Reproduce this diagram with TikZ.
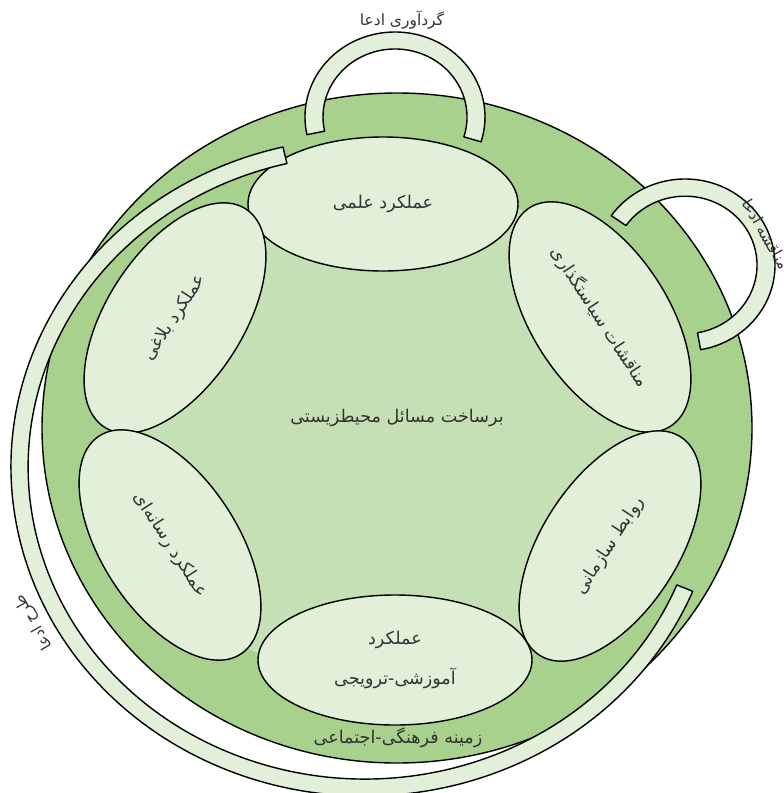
\documentclass[tikz,border=0pt]{standalone}
\usepackage{fontspec}
\usepackage{tikz}
\usetikzlibrary{shapes.geometric}
\newfontfamily\persian[Script=Arabic]{DejaVu Sans}
\TeXXeTstate=1
\definecolor{contextgreen}{RGB}{169,209,142}
\definecolor{issuegreen}{RGB}{197,224,180}
\definecolor{palegreen}{RGB}{226,240,217}
\tikzset{
  fa/.style={font=\persian\fontsize{12.5}{15}\selectfont, text=black!80},
  claimtext/.style={font=\persian\fontsize{11}{13}\selectfont, text=black!80},
  perf/.style={ellipse, draw, fill=palegreen, line width=1pt, inner sep=0pt, fa},
  side/.style={minimum width=6.5cm, minimum height=3.4cm},
  band/.style={draw, fill=palegreen, line width=1pt}
}

\begin{document}
\begin{tikzpicture}[line join=round]
  \useasboundingbox (0,0) rectangle (19.6,-19.825);
  \filldraw[fill=contextgreen, line width=1pt] (9.925,-10.7) ellipse [x radius=8.875, y radius=8.375];
  \fill[issuegreen] (9.75,-10.8) ellipse [x radius=6.75, y radius=6.35];
  \node[fa] (issue) at (9.925,-10.45) {\beginR برساخت مسائل محیطزیستی\endR};
  \node[fa] (context) at (9.95,-18.45) {\beginR زمینه فرهنگی-اجتماعی\endR};

  \node[perf, minimum width=6.75cm, minimum height=3.35cm] (science) at (9.575,-5.1) {\beginR عملکرد علمی\endR};
  \node[perf, minimum width=6.85cm, minimum height=3.25cm, align=center] (education) at (9.875,-16.5)
    {\beginR عملکرد\endR\\[0.45cm]\beginR آموزشی-ترویجی\endR};
  \node[perf, side, rotate=57] (rhetoric) at (4.375,-7.95) {\beginR عملکرد بلاغی\endR};
  \node[perf, side, rotate=-57] (media) at (4.25,-13.625) {\beginR عملکرد رسانه‌ای\endR};
  \node[perf, side, rotate=-57] (policy) at (15.0,-7.925) {\beginR مناقشات سیاستگذاری\endR};
  \node[perf, side, rotate=57] (relations) at (15.25,-13.65) {\beginR روابط سازمانی\endR};

  \coordinate (pc) at (9.125,-11.675);
  \filldraw[band] ([shift={(103.4:8.85 and 8.225)}]pc) arc[start angle=103.4, end angle=337.8, x radius=8.85, y radius=8.225]
    -- ([shift={(337.8:8.42 and 7.8)}]pc) arc[start angle=337.8, end angle=103.4, x radius=8.42, y radius=7.8] -- cycle;
  \node[claimtext, rotate=120] (present) at (0.85,-15.55) {\beginR طرح ادعا\endR};

  \coordinate (gc) at (9.875,-2.925);
  \filldraw[band] ([shift={(192:2.25 and 2.125)}]gc) arc[start angle=192, end angle=-17, x radius=2.25, y radius=2.125]
    -- ([shift={(-17:1.8 and 1.7)}]gc) arc[start angle=-17, end angle=192, x radius=1.8, y radius=1.7] -- cycle;
  \node[claimtext] (gather) at (10.05,-0.5) {\beginR گردآوری ادعا\endR};

  \coordinate (cc) at (17.125,-6.625);
  \filldraw[band] ([shift={(145:2.25 and 2.15)}]cc) arc[start angle=145, end angle=-80, x radius=2.25, y radius=2.15]
    -- ([shift={(-80:1.8 and 1.72)}]cc) arc[start angle=-80, end angle=145, x radius=1.8, y radius=1.72] -- cycle;
  \node[claimtext, rotate=-60] (contest) at (19.15,-5.85) {\beginR مناقشه ادعا\endR};
\end{tikzpicture}
\end{document}
